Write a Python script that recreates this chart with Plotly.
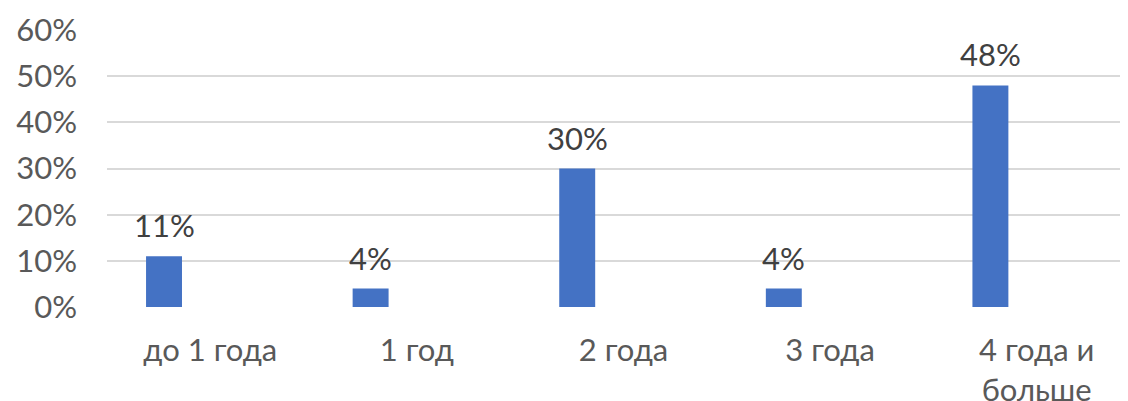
import plotly.graph_objects as go

categories = ["до 1 года", "1 год", "2 года", "3 года", "4 года и<br>больше"]
values = [11, 4, 30, 4, 48]
labels = ["11%", "4%", "30%", "4%", "48%"]
y_ticks = [0, 10, 20, 30, 40, 50, 60]
y_ticktext = ["0%", "10%", "20%", "30%", "40%", "50%", "60%"]

FONT = "Lato"
BAR_W = 0.174
BAR_OFF = -0.311

fig = go.Figure()
fig.add_trace(go.Bar(
    x=categories, y=values,
    width=BAR_W, offset=BAR_OFF,
    marker=dict(color="#4472C4", line=dict(width=0)),
    hoverinfo="skip",
))

for i, (v, t) in enumerate(zip(values, labels)):
    fig.add_annotation(
        x=i + BAR_OFF + BAR_W / 2, y=v, xref="x", yref="y",
        text=t, showarrow=False, yanchor="bottom", yshift=10,
        font=dict(family=FONT, size=31, color="#404040"),
    )

fig.add_shape(type="line", xref="paper", yref="paper",
              x0=-106.5 / 1021, x1=-106.5 / 1021, y0=-2, y1=2,
              line=dict(color="#d9d9d9", width=1.5))

fig.update_layout(
    width=1120, height=393,
    margin=dict(l=99, r=0, t=22, b=94, autoexpand=False),
    paper_bgcolor="white", plot_bgcolor="white",
    showlegend=False,
    font=dict(family=FONT, size=31, color="#595959"),
    xaxis=dict(
        type="category", range=[-0.5, 4.442],
        showgrid=False, showline=False, zeroline=False,
        ticks="", ticklabelstandoff=22, automargin=False,
        tickfont=dict(family=FONT, size=31, color="#595959"),
    ),
    yaxis=dict(
        range=[0, 60], tickvals=y_ticks, ticktext=y_ticktext,
        showgrid=True, gridcolor="#d9d9d9", gridwidth=1.5,
        zeroline=False, showline=False, ticks="",
        ticklabelstandoff=29, automargin=False,
        tickfont=dict(family=FONT, size=31, color="#595959"),
    ),
)

fig.write_html("out.html")
